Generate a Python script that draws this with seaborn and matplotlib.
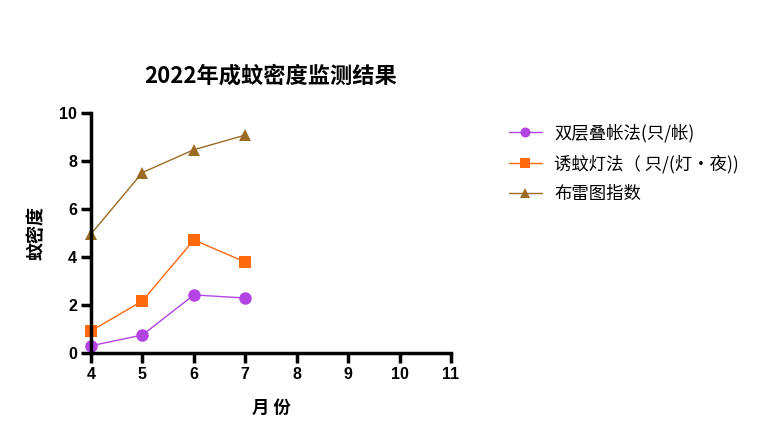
import pandas as pd
import matplotlib
matplotlib.use("Agg")
import matplotlib.pyplot as plt
import seaborn as sns

months = [4, 5, 6, 7]
series_names = ["双层叠帐法(只/帐)", "诱蚊灯法（ 只/(灯·夜))", "布雷图指数"]
shuangceng = [0.30, 0.75, 2.42, 2.29]
youwendeng = [0.92, 2.17, 4.71, 3.79]
buleitu = [4.96, 7.52, 8.47, 9.08]
colors = ["#B344E4", "#FF6A0D", "#9B6B24"]
marker_list = ["o", "s", "^"]

sns.set_theme(style="ticks")
plt.rcParams['font.family'] = ['Noto Sans CJK SC', 'DejaVu Sans']
plt.rcParams['text.color'] = 'black'
plt.rcParams['axes.labelcolor'] = 'black'

datos = pd.DataFrame({
    "月份": months * 3,
    "密度": shuangceng + youwendeng + buleitu,
    "方法": [series_names[0]] * 4 + [series_names[1]] * 4 + [series_names[2]] * 4,
})

fig = plt.figure(figsize=(7.67, 4.42), dpi=100)
ax = fig.add_axes([91 / 767, 1 - 353 / 442, 360 / 767, 240 / 442])

sns.lineplot(data=datos, x="月份", y="密度", hue="方法", style="方法",
             palette=dict(zip(series_names, colors)),
             markers=dict(zip(series_names, marker_list)),
             dashes=False, linewidth=1, markersize=9, markeredgewidth=0,
             ax=ax, clip_on=False)

ax.set_xlim(4, 11)
ax.set_ylim(0, 10)
ax.set_xticks(range(4, 12))
ax.set_yticks(range(0, 11, 2))
sns.despine(ax=ax)
for s in ["left", "bottom"]:
    ax.spines[s].set_linewidth(2.5)
    ax.spines[s].set_color("black")
ax.tick_params(width=2.5, length=7, colors="black", labelsize=11.5, pad=3)
for lab in ax.get_xticklabels() + ax.get_yticklabels():
    lab.set_fontweight("bold")
    lab.set_family(["Liberation Sans", "DejaVu Sans"])

ax.set_xlabel("月 份", fontsize=12.5, fontweight="bold", labelpad=12)
ax.set_ylabel("蚊密度", fontsize=13, fontweight="bold", labelpad=10)
ax.set_title("2022年成蚊密度监测结果", fontsize=16, fontweight="bold", pad=22,
             color="black")

handles, labels = ax.get_legend_handles_labels()
ax.legend(handles, labels, loc="upper left", bbox_to_anchor=(502 / 767, 1 - 117 / 442),
          bbox_transform=fig.transFigure, frameon=False, fontsize=12.5,
          handlelength=1.9, handletextpad=0.7, labelspacing=0.7, borderaxespad=0,
          markerscale=0.8)

plt.savefig("out.png", dpi=100)
